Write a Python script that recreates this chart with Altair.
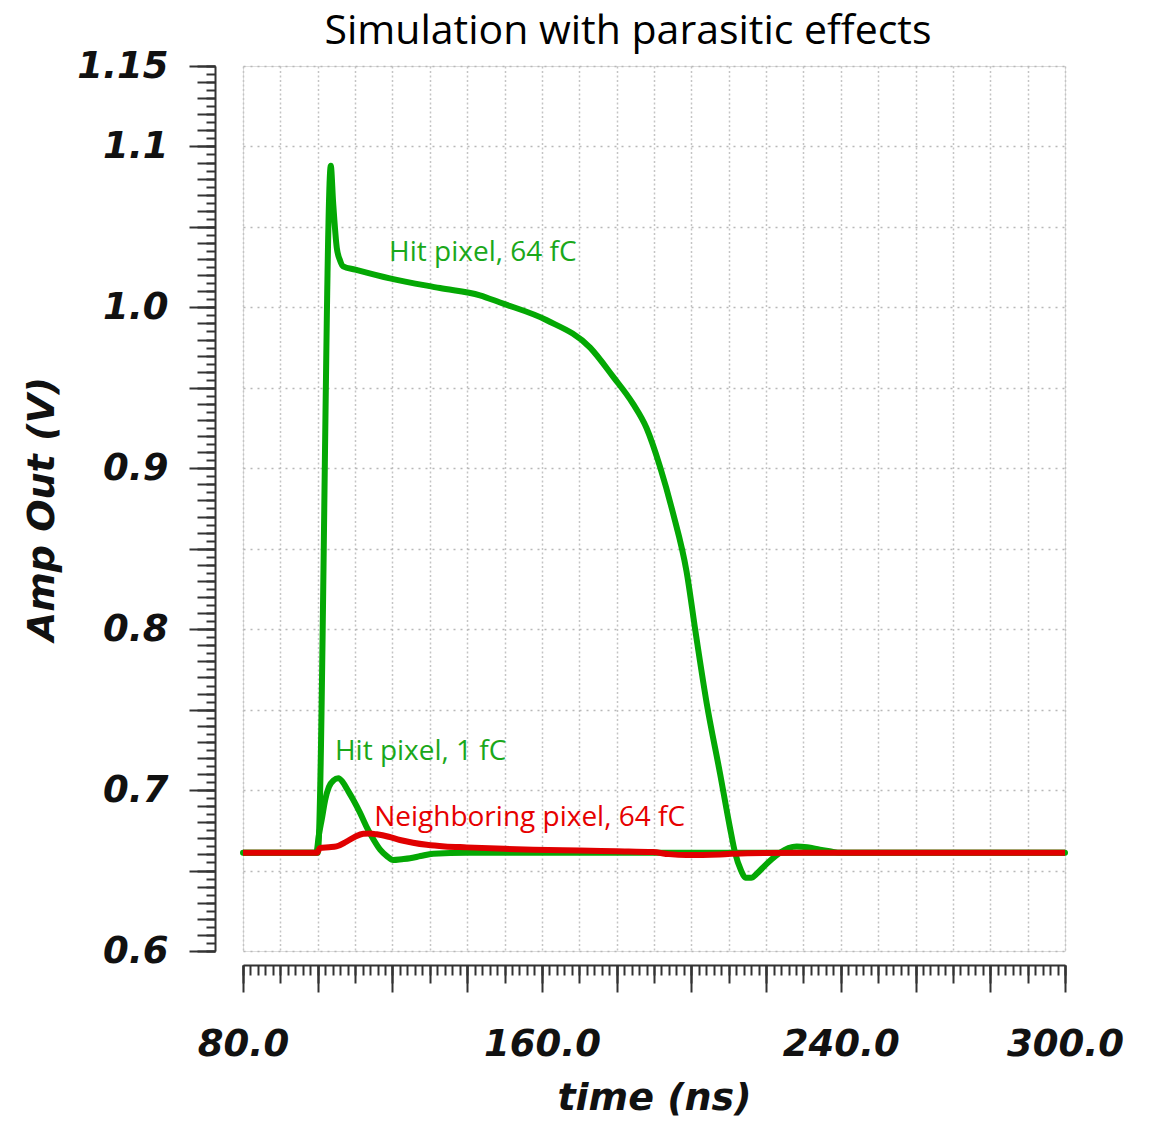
import altair as alt
import pandas as pd

# ---- data ----
t_hit64 = [80, 100.0, 103.5, 104.1, 105.1, 106.0, 106.8, 110.0, 119.3, 132.7, 143.4, 148.8,
           161.3, 172.9, 179.1, 184.4, 188.0, 191.6, 195.1, 198.7, 201.2, 204.1, 207.7,
           210.3, 211.7, 213.3, 214.5, 216.0, 217.5, 219.2, 221.5, 223.7, 226.0, 228.2,
           231.0, 234.4, 237.0, 240.0, 300]
v_hit64 = [0.661, 0.661, 1.088, 1.066, 1.037, 1.029, 1.0255, 1.0235, 1.018, 1.012, 1.0075,
           1.003, 0.992, 0.975, 0.9568, 0.940, 0.925, 0.901, 0.872, 0.836, 0.797, 0.754,
           0.710, 0.677, 0.661, 0.650, 0.6455, 0.6455, 0.648, 0.652, 0.657, 0.661, 0.664,
           0.665, 0.6645, 0.663, 0.662, 0.661, 0.661]

t_hit1 = [80, 99.6, 100.3, 101.1, 102.0, 103.0, 104.2, 105.5, 106.7, 108.0, 109.5, 111.3,
          113.1, 115.0, 116.7, 118.5, 120.2, 122.5, 124.7, 127.5, 130.9, 140.0, 300]
v_hit1 = [0.661, 0.661, 0.672, 0.682, 0.694, 0.702, 0.706, 0.7073, 0.705, 0.700, 0.694, 0.686,
          0.677, 0.669, 0.663, 0.659, 0.6565, 0.657, 0.6576, 0.659, 0.6605, 0.661, 0.661]

t_nb64 = [80, 99.8, 100.6, 103.0, 105.0, 107.7, 110.0, 112.2, 114.0, 115.8, 119.0, 122.0,
          125.5, 129.2, 134.0, 139.9, 150.0, 157.7, 170.0, 180.0, 189.7, 194.0, 198.7,
          203.0, 207.7, 215.0, 230.0, 300]
v_nb64 = [0.661, 0.661, 0.664, 0.6645, 0.665, 0.668, 0.671, 0.6728, 0.673, 0.6725, 0.671, 0.669,
          0.6673, 0.666, 0.665, 0.6644, 0.6635, 0.663, 0.6625, 0.662, 0.6615, 0.6602, 0.6596,
          0.6597, 0.660, 0.6608, 0.661, 0.661]

label_texts = ["Hit pixel, 64 fC", "Hit pixel, 1 fC", "Neighboring pixel, 64 fC"]
label_t = [119.1, 104.6, 115.1]
label_v = [1.0335, 0.7236, 0.6826]
label_colors = ["#1aa81a", "#1aa81a", "#e60000"]

# axis tick positions and shown labels
x_major = list(range(80, 301, 20))
x_medium = list(range(80, 301, 10))
x_small = list(range(80, 301, 2))
x_labels = [80, 160, 240, 300]
y_major = [round(0.6 + 0.05 * i, 2) for i in range(12)]
y_medium = [round(0.6 + 0.01 * i, 2) for i in range(56)]
y_small = [round(0.6 + 0.005 * i, 3) for i in range(111)]
y_labels = [0.6, 0.7, 0.8, 0.9, 1.0, 1.1, 1.15]

df64 = pd.DataFrame({"t": t_hit64, "v": v_hit64})
df1 = pd.DataFrame({"t": t_hit1, "v": v_hit1})
dfn = pd.DataFrame({"t": t_nb64, "v": v_nb64})
dfl = pd.DataFrame({"t": label_t, "v": label_v, "label": label_texts, "c": label_colors})

xs = alt.Scale(domain=[80, 300], nice=False, zero=False)
ys = alt.Scale(domain=[0.6, 1.15], nice=False, zero=False)

GREEN = "#04a804"
RED = "#e00000"
AX_FONT = "DejaVu Sans"
TICK_C = "#333333"

x_label_expr = "indexof(%s, datum.value) >= 0 ? format(datum.value, '.1f') : ''" % str(x_labels)
y_label_expr = ("indexof(%s, datum.value) >= 0 ? "
                "(datum.value == 1.15 ? '1.15' : format(datum.value, '.1f')) : ''" % str(y_labels))

def tick_axis(orient, values, size, offset):
    return alt.Axis(orient=orient, values=values, tickSize=size, tickWidth=2,
                    tickColor=TICK_C, offset=offset, labels=False, domain=False,
                    grid=False, title=None)

main_x = alt.Axis(orient="bottom", values=x_major, offset=14, tickSize=27, tickWidth=2,
                  tickColor=TICK_C, domain=True, domainColor=TICK_C, domainWidth=2,
                  labelExpr=x_label_expr, labelFont=AX_FONT, labelFontSize=37,
                  labelFontWeight="bold", labelFontStyle="italic", labelColor="#111",
                  labelPadding=34, labelFlush=False, labelOverlap=False, grid=False,
                  title="time (ns)", titleFont=AX_FONT, titleFontSize=38,
                  titleFontWeight="bold", titleFontStyle="italic", titleColor="#111",
                  titlePadding=17)
main_y = alt.Axis(orient="left", values=y_major, offset=28, tickSize=26, tickWidth=2,
                  tickColor=TICK_C, domain=True, domainColor=TICK_C, domainWidth=2,
                  labelExpr=y_label_expr, labelFont=AX_FONT, labelFontSize=37,
                  labelFontWeight="bold", labelFontStyle="italic", labelColor="#111",
                  labelPadding=21, labelFlush=False, labelOverlap=False, grid=False,
                  title="Amp Out (V)", titleFont=AX_FONT, titleFontSize=38,
                  titleFontWeight="bold", titleFontStyle="italic", titleColor="#111",
                  titlePadding=15)

grid_x = alt.Axis(orient="bottom", values=x_medium, grid=True, gridColor="#c4c4c4",
                  gridWidth=1.5, gridDash=[2, 2.5], ticks=False, labels=False,
                  domain=False, title=None)
grid_y = alt.Axis(orient="left", values=y_major, grid=True, gridColor="#b8b8b8",
                  gridWidth=1.5, gridDash=[2, 5], ticks=False, labels=False,
                  domain=False, title=None)

grid_layer = alt.Chart(df64).mark_point(opacity=0).encode(
    x=alt.X("t:Q", scale=xs, axis=grid_x),
    y=alt.Y("v:Q", scale=ys, axis=grid_y),
)
med_layer = alt.Chart(df64).mark_point(opacity=0).encode(
    x=alt.X("t:Q", scale=xs, axis=tick_axis("bottom", x_medium, 18, 14)),
    y=alt.Y("v:Q", scale=ys, axis=tick_axis("left", y_medium, 18, 28)),
)
small_layer = alt.Chart(df64).mark_point(opacity=0).encode(
    x=alt.X("t:Q", scale=xs, axis=tick_axis("bottom", x_small, 10, 14)),
    y=alt.Y("v:Q", scale=ys, axis=tick_axis("left", y_small, 9, 28)),
)

line64 = alt.Chart(df64).mark_line(color=GREEN, strokeWidth=6, strokeJoin="round",
                                   strokeCap="round", interpolate="monotone").encode(
    x=alt.X("t:Q", scale=xs, axis=main_x),
    y=alt.Y("v:Q", scale=ys, axis=main_y),
)
line1 = alt.Chart(df1).mark_line(color=GREEN, strokeWidth=6, strokeJoin="round",
                                 interpolate="monotone").encode(
    x=alt.X("t:Q", scale=xs, axis=None),
    y=alt.Y("v:Q", scale=ys, axis=None),
)
linen = alt.Chart(dfn).mark_line(color=RED, strokeWidth=6, strokeJoin="round",
                                 interpolate="monotone").encode(
    x=alt.X("t:Q", scale=xs, axis=None),
    y=alt.Y("v:Q", scale=ys, axis=None),
)
texts = alt.Chart(dfl).mark_text(align="left", baseline="middle", font="Open Sans",
                                 fontSize=28).encode(
    x=alt.X("t:Q", scale=xs, axis=None),
    y=alt.Y("v:Q", scale=ys, axis=None),
    text="label:N",
    color=alt.Color("c:N", scale=None),
)

chart = alt.layer(grid_layer, med_layer, small_layer, line64, line1, linen, texts).resolve_axis(
    x="independent", y="independent"
).properties(
    width=822,
    height=885,
    title=alt.TitleParams(text="Simulation with parasitic effects", font="Open Sans",
                          fontSize=41, fontWeight="normal", color="#000",
                          anchor="middle", frame="group", dx=-26, offset=-6),
    autosize=alt.AutoSizeParams(type="none"),
    padding={"left": 235, "top": 58, "right": 70, "bottom": 176},
).configure_view(stroke=None).configure(background="white")

chart.save("out.html", embed_options={"renderer": "svg", "actions": False})
